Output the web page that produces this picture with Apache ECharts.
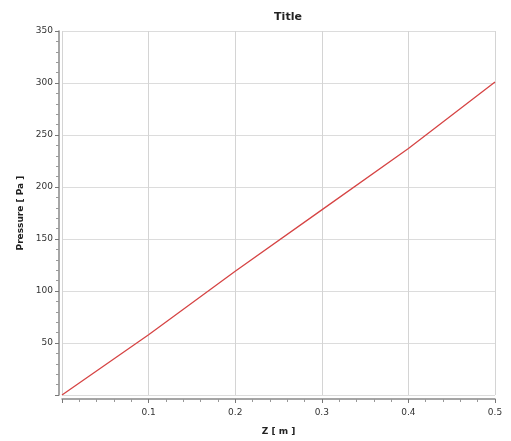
<!DOCTYPE html>
<html>
<head>
<meta charset="utf-8">
<script src="https://cdn.jsdelivr.net/npm/echarts@6/dist/echarts.min.js"></script>
<style>
  html, body { margin: 0; padding: 0; background: #fff; }
  #chart { width: 511px; height: 441px; }
</style>
</head>
<body>
<div id="chart"></div>
<script>
// values
const zValues = [0, 0.1, 0.2, 0.3, 0.4, 0.5];
const pressureValues = [0, 58, 119, 178, 237, 301];

const chartTitle = 'Title';
const xName = 'Z [ m ]';
const yName = 'Pressure [ Pa ]';

const font = 'DejaVu Sans';

const myChart = echarts.init(document.getElementById('chart'));

const points = [];
for (let i = 0; i < zValues.length; i += 1) {
  points.push([zValues[i], pressureValues[i]]);
}

myChart.setOption({
  backgroundColor: '#fff',
  animation: false,
  title: {
    text: chartTitle,
    left: 283,
    top: 7,
    textAlign: 'center',
    textStyle: { fontFamily: font, fontSize: 11, fontWeight: 'bold', color: '#222' },
  },
  grid: { left: 62, right: 16, top: 31, bottom: 40 },
  xAxis: {
    type: 'value',
    min: 0,
    max: 0.5,
    interval: 0.1,
    offset: 4,
    name: xName,
    nameLocation: 'middle',
    nameGap: 28,
    nameTextStyle: { fontFamily: font, fontSize: 9, fontWeight: 'bold', color: '#222' },
    axisLine: { show: true, onZero: false, lineStyle: { color: '#888', width: 1.5 } },
    axisTick: { show: true, length: 4, lineStyle: { color: '#777' } },
    minorTick: { show: true, splitNumber: 5, length: 3, lineStyle: { color: '#999' } },
    axisLabel: {
      fontFamily: font, fontSize: 9, color: '#333', margin: 9,
      formatter: (v) => (v === 0 ? '' : String(+v.toFixed(1))),
    },
    splitLine: { show: true, lineStyle: { color: '#d4d4d4', width: 1 } },
  },
  yAxis: {
    type: 'value',
    min: 0,
    max: 350,
    interval: 50,
    offset: 3,
    name: yName,
    nameLocation: 'middle',
    nameGap: 34,
    nameTextStyle: { fontFamily: font, fontSize: 9, fontWeight: 'bold', color: '#222' },
    axisLine: { show: true, onZero: false, lineStyle: { color: '#888', width: 1.5 } },
    axisTick: { show: true, length: 4, lineStyle: { color: '#777' } },
    minorTick: { show: true, splitNumber: 5, length: 3, lineStyle: { color: '#999' } },
    axisLabel: {
      fontFamily: font, fontSize: 9, color: '#333', margin: 6,
      formatter: (v) => (v === 0 ? '' : String(v)),
    },
    splitLine: { show: true, lineStyle: { color: '#dcdcdc', width: 1 } },
  },
  series: [
    {
      type: 'line',
      data: points,
      showSymbol: false,
      smooth: false,
      lineStyle: { color: '#d64545', width: 1.3 },
    },
  ],
});
</script>
</body>
</html>
